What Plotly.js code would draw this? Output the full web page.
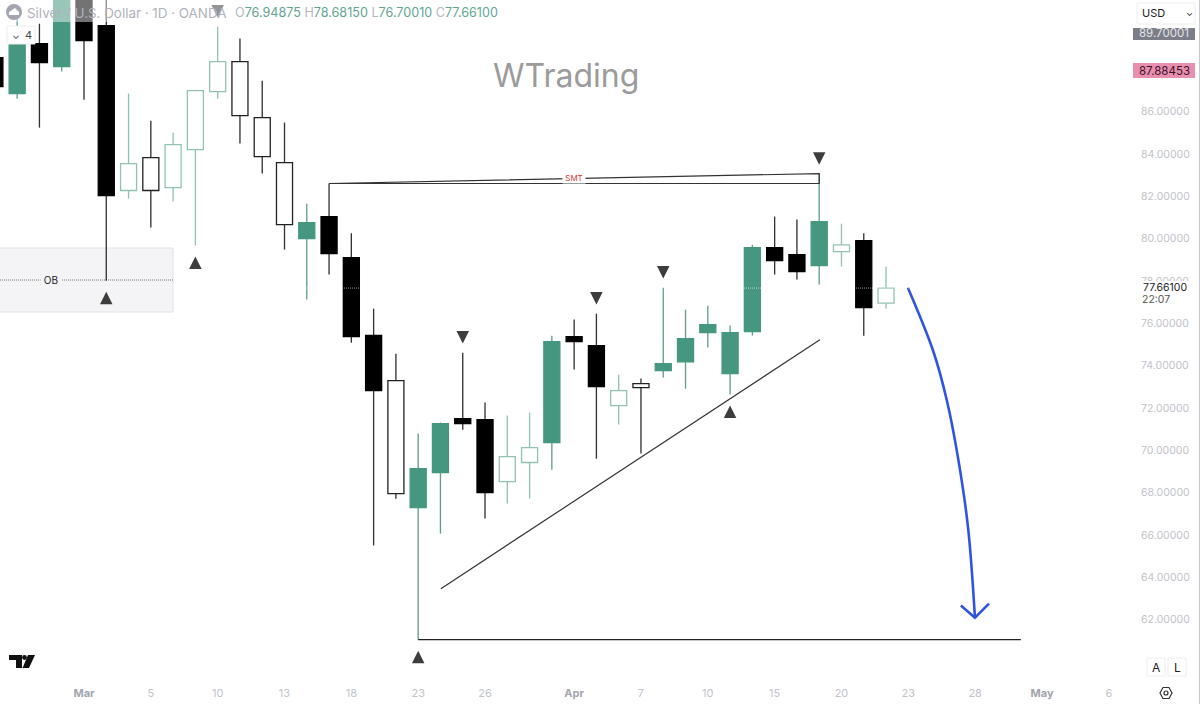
<!DOCTYPE html>
<html>
<head>
<meta charset="utf-8">
<script src="https://cdn.plot.ly/plotly-3.0.1.min.js"></script>
<style>html,body{margin:0;padding:0;background:#fff}</style>
</head>
<body>
<div id="chart" style="width:1200px;height:704px"></div>
<script>
// daily bars, index 0 = first bar of the Mar label
var idx = [-4,-3,-2,-1,0,1,2,3,4,5,6,7,8,9,10,11,12,13,14,15,16,17,18,19,20,21,22,23,24,25,26,27,28,29,30,31,32,33,34,35,36];
var highs = [89.35,91.0,90.15,92.5,92.4,91.71,86.85,85.57,85.0,87.03,90.01,89.45,87.46,85.48,81.65,82.6,80.25,76.69,74.56,70.79,71.31,74.61,72.25,71.64,71.78,75.41,76.17,76.45,73.57,73.39,77.68,76.64,76.83,75.89,79.71,81.04,80.9,83.07,80.7,80.25,78.68];
var bodyTop = [88.55,89.92,89.21,92.2,91.95,90.06,83.54,83.82,84.44,86.99,88.36,88.36,85.71,83.59,80.75,81.04,79.1,75.42,73.29,69.13,71.26,71.49,71.45,69.7,70.12,75.13,75.37,74.94,72.82,73.15,74.09,75.27,75.93,75.56,79.57,79.57,79.24,80.8,79.7,79.9,77.66];
var bodyBot = [87.18,86.85,88.31,88.12,89.35,82.03,82.27,82.27,82.41,84.2,86.94,85.81,83.87,80.66,80.0,79.29,75.37,72.82,67.95,67.29,68.94,71.26,68.0,68.52,69.42,70.36,75.13,73.0,72.11,72.96,73.76,74.18,75.56,73.62,75.6,78.96,78.44,78.72,79.38,76.74,76.95];
var lows = [86.75,86.61,85.24,87.89,86.56,78.01,81.89,80.52,81.75,79.67,86.61,84.49,83.07,79.48,77.12,78.3,75.08,65.5,67.71,61.05,66.06,70.97,66.77,67.48,67.71,69.08,73.81,69.6,71.21,69.84,73.43,72.91,74.85,72.63,75.42,78.3,78.06,77.83,78.68,75.41,76.7];
// G solid green, H hollow green, B solid black, K hollow black
var styles = ['B','G','B','G','B','B','H','K','H','H','H','K','K','K','G','B','B','B','K','G','G','B','B','H','H','G','B','B','H','K','G','G','G','G','G','B','B','G','H','B','H'];

var tickIdx = [0,3,6,9,12,15,18,22,25,28,31,34,37,40,43,46];
var tickText = ['Mar','5','10','13','18','23','26','Apr','7','10','15','20','23','28','May','6'];
var priceTicks = [62,64,66,68,70,72,74,76,78,80,82,84,86];

// pivot triangles, the price is the tip of the triangle
var upIdx = [1,5,15,29];
var upPrice = [77.49,79.15,60.53,72.11];
var downIdx = [6,17,23,26,33];
var downPrice = [90.44,75.04,76.88,78.11,83.49];

// drawings
var trendX = [16.02,33.03];
var trendY = [63.46,75.22];
var smtTopX = [11,33,33,11,11];
var smtTopY = [82.6,83.07,82.6,82.6,82.6];
var floorX = [15,42.05];
var floorY = [61.05,61.05];
var arrowX = [36.98,38.11,38.73,39.23,39.68,39.99];
var arrowY = [77.68,74.71,72.35,69.65,66.35,62.09];
var headX = [39.36,39.99,40.62];
var headY = [62.66,62.09,62.75];

var lastPrice = 77.661;
var GREEN = '#46977f', GREEN_LT = '#93c2b4', BLACK = '#000000';
var fills = {G:GREEN, H:'#ffffff', B:BLACK, K:'#ffffff'};
var edges = {G:GREEN, H:GREEN_LT, B:BLACK, K:'#222222'};
var wicks = {G:'#5f9f8d', H:GREEN_LT, B:'#333333', K:'#333333'};

var wickTrace = {
  type:'bar', x:idx, base:lows,
  y:highs.map(function(h,i){return h-lows[i];}),
  width:0.06,
  marker:{color:styles.map(function(s){return wicks[s];}), line:{width:0}},
  hoverinfo:'skip'
};
var bodyTrace = {
  type:'bar', x:idx, base:bodyBot,
  y:bodyTop.map(function(t,i){return t-bodyBot[i];}),
  width:0.72,
  marker:{color:styles.map(function(s){return fills[s];}),
          line:{color:styles.map(function(s){return edges[s];}), width:1.3}},
  hoverinfo:'skip'
};
function lineTrace(x,y,color,width,shape){
  return {type:'scatter', mode:'lines', x:x, y:y, hoverinfo:'skip',
          line:{color:color, width:width, shape:shape||'linear'}};
}
var upTrace = {type:'scatter', mode:'markers', x:upIdx, y:upPrice, hoverinfo:'skip',
  marker:{symbol:'arrow-up', size:12.5, color:'#3d3d3d', line:{width:0}}};
var downTrace = {type:'scatter', mode:'markers', x:downIdx, y:downPrice, hoverinfo:'skip',
  marker:{symbol:'arrow-down', size:12.5, color:'#3d3d3d', line:{width:0}}};

var data = [
  wickTrace, bodyTrace,
  lineTrace(trendX,trendY,'#333333',1.2),
  lineTrace(smtTopX,smtTopY,'#333333',1.2),
  lineTrace(floorX,floorY,'#222222',1.2),
  upTrace, downTrace,
  lineTrace(arrowX,arrowY,'#2f55e0',2.6,'spline'),
  lineTrace(headX,headY,'#2f55e0',2.6)
];

// plot area is 1130 x 682, chrome is placed in page pixels
var W = 1130, H = 682;
function px(x){return x/W;}
function py(y){return 1-y/H;}
function box(x0,y0,x1,y1,fill,line,layer){
  return {type:'rect', xref:'paper', yref:'paper', x0:px(x0), x1:px(x1), y0:py(y0), y1:py(y1),
          fillcolor:fill, line:{color:line||fill, width:line?1:0}, layer:layer||'above'};
}
function label(x,y,text,size,color,anchor,extra){
  var a = {xref:'paper', yref:'paper', x:px(x), y:py(y), text:text, showarrow:false,
           xanchor:anchor||'left', yanchor:'middle', font:{size:size, color:color}, borderpad:0};
  for (var k in extra) a[k] = extra[k];
  return a;
}
function poly(points,fill){
  var d = points.map(function(p,i){return (i?'L':'M')+px(p[0])+' '+py(p[1]);}).join(' ')+' Z';
  return {type:'path', xref:'paper', yref:'paper', path:d, fillcolor:fill, line:{width:0}, layer:'above'};
}
function ring(cx,cy,r,fill,line){
  return {type:'circle', xref:'paper', yref:'paper', x0:px(cx-r), x1:px(cx+r), y0:py(cy+r), y1:py(cy-r),
          fillcolor:fill, line:{color:line||fill, width:line?1.2:0}, layer:'above'};
}

var shapes = [
  // OB zone
  {type:'rect', xref:'paper', yref:'paper', x0:px(-2), x1:px(173), y0:py(312), y1:py(248),
   fillcolor:'#f4f4f6', line:{color:'#e2e2e5', width:1}, layer:'below'},
  {type:'line', xref:'paper', yref:'paper', x0:0, x1:px(173), y0:py(280), y1:py(280),
   line:{color:'#777777', width:1, dash:'1px,1px'}, layer:'below'},
  // current price line, only shows on the dark bodies
  {type:'line', xref:'paper', yref:'y', x0:0, x1:1, y0:lastPrice, y1:lastPrice,
   line:{color:'rgba(255,255,255,0.6)', width:1, dash:'1px,1px'}, layer:'above'},
  // legend backdrop
  box(5,0,232,22,'rgba(255,255,255,0.45)'),
  ring(14,12,8,'#a4a6b2'),
  poly([[9,15],[19,15],[19,12],[15,8],[12,10],[9,12]],'#ffffff'),
  box(7,26,35,44,'#ffffff','#ececef'),
  // axis column
  box(1133,281,1195,305,'#ffffff'),
  box(1133,28,1195,40,'#7b7e88'),
  box(1133,63,1195,78,'#e88fb0'),
  box(1137,3,1195,24,'#ffffff','#eeeeF0'),
  box(1147,658,1165,676,'#ffffff','#eeeef0'),
  box(1168,658,1186,676,'#ffffff','#eeeef0'),
  box(1199,0,1200,704,'#c9c9cc'),
  // settings icon
  {type:'path', xref:'paper', yref:'paper', layer:'above', line:{color:'#333333', width:1.2},
   path:['M',px(1160),py(693),'L',px(1163),py(687.5),'L',px(1169),py(687.5),'L',px(1172),py(693),'L',px(1169),py(698.5),'L',px(1163),py(698.5),'Z'].join(' ')},
  ring(1166,693,2,'#ffffff','#333333'),
  // tradingview mark
  poly([[9,655],[22,655],[22,668],[16,668],[16,660],[9,660]],'#111111'),
  ring(24.5,657.5,2.4,'#111111'),
  poly([[28,655],[35,655],[29,668],[22.5,668]],'#111111')
];

var val = '#5fa592';
var annotations = [
  label(566,75,'WTrading',32,'#9b9b9b','center'),
  label(26,13,'Silver / U.S. Dollar · 1D · OANDA',13.4,'#b0b2bb'),
  label(234,13,'<span style="color:#b6b8c0">O</span>76.94875 <span style="color:#b6b8c0">H</span>78.68150 <span style="color:#b6b8c0">L</span>76.70010 <span style="color:#b6b8c0">C</span>77.66100',12.6,val),
  label(16,35,'⌄',10,'#333333','center'),
  label(28,35,'4',11,'#444444','center'),
  label(51,280,'&nbsp;OB&nbsp;',10,'#222222','center',{bgcolor:'#f4f4f6'}),
  label(574,178,'&nbsp;SMT&nbsp;',8,'#d43b3b','center',{bgcolor:'#ffffff'}),
  label(1141,13,'USD',11,'#222222'),
  label(1189,13,'⌄',9,'#222222','center'),
  label(1164,33.5,'89.70001',11.5,'#e4e5ea','center'),
  label(1164,70.5,'87.88453',11.5,'#3a1028','center'),
  label(1165,287,'77.66100',10.5,'#222222','center'),
  label(1141,299,'22:07',10.5,'#555555'),
  label(1156,667,'A',12,'#222222','center'),
  label(1177,667,'L',12,'#222222','center')
];

var layout = {
  width:1200, height:704,
  margin:{l:0, r:70, t:0, b:22, pad:0},
  paper_bgcolor:'#ffffff', plot_bgcolor:'rgba(0,0,0,0)',
  font:{family:'Inter, "Liberation Sans", sans-serif', size:11, color:'#c1c3ca'},
  barmode:'overlay', showlegend:false,
  xaxis:{range:[-3.77,46.95], tickmode:'array', tickvals:tickIdx,
         ticktext:tickText.map(function(t){
           return /[a-z]/.test(t) ? '<span style="color:#a3a5af"><b>'+t+'</b></span>' : t;
         }),
         showgrid:false, zeroline:false, showline:false, ticks:'', ticklabelstandoff:3,
         tickfont:{size:11, color:'#c1c3ca'}},
  yaxis:{range:[59.05,91.27], side:'right', tickmode:'array', tickvals:priceTicks, tickformat:'.5f',
         showgrid:false, zeroline:false, showline:false, ticks:'', ticklabelstandoff:10,
         tickfont:{size:10.5, color:'#c1c3ca'}},
  shapes:shapes, annotations:annotations
};

Plotly.newPlot('chart', data, layout, {displayModeBar:false, staticPlot:true});
</script>
</body>
</html>
